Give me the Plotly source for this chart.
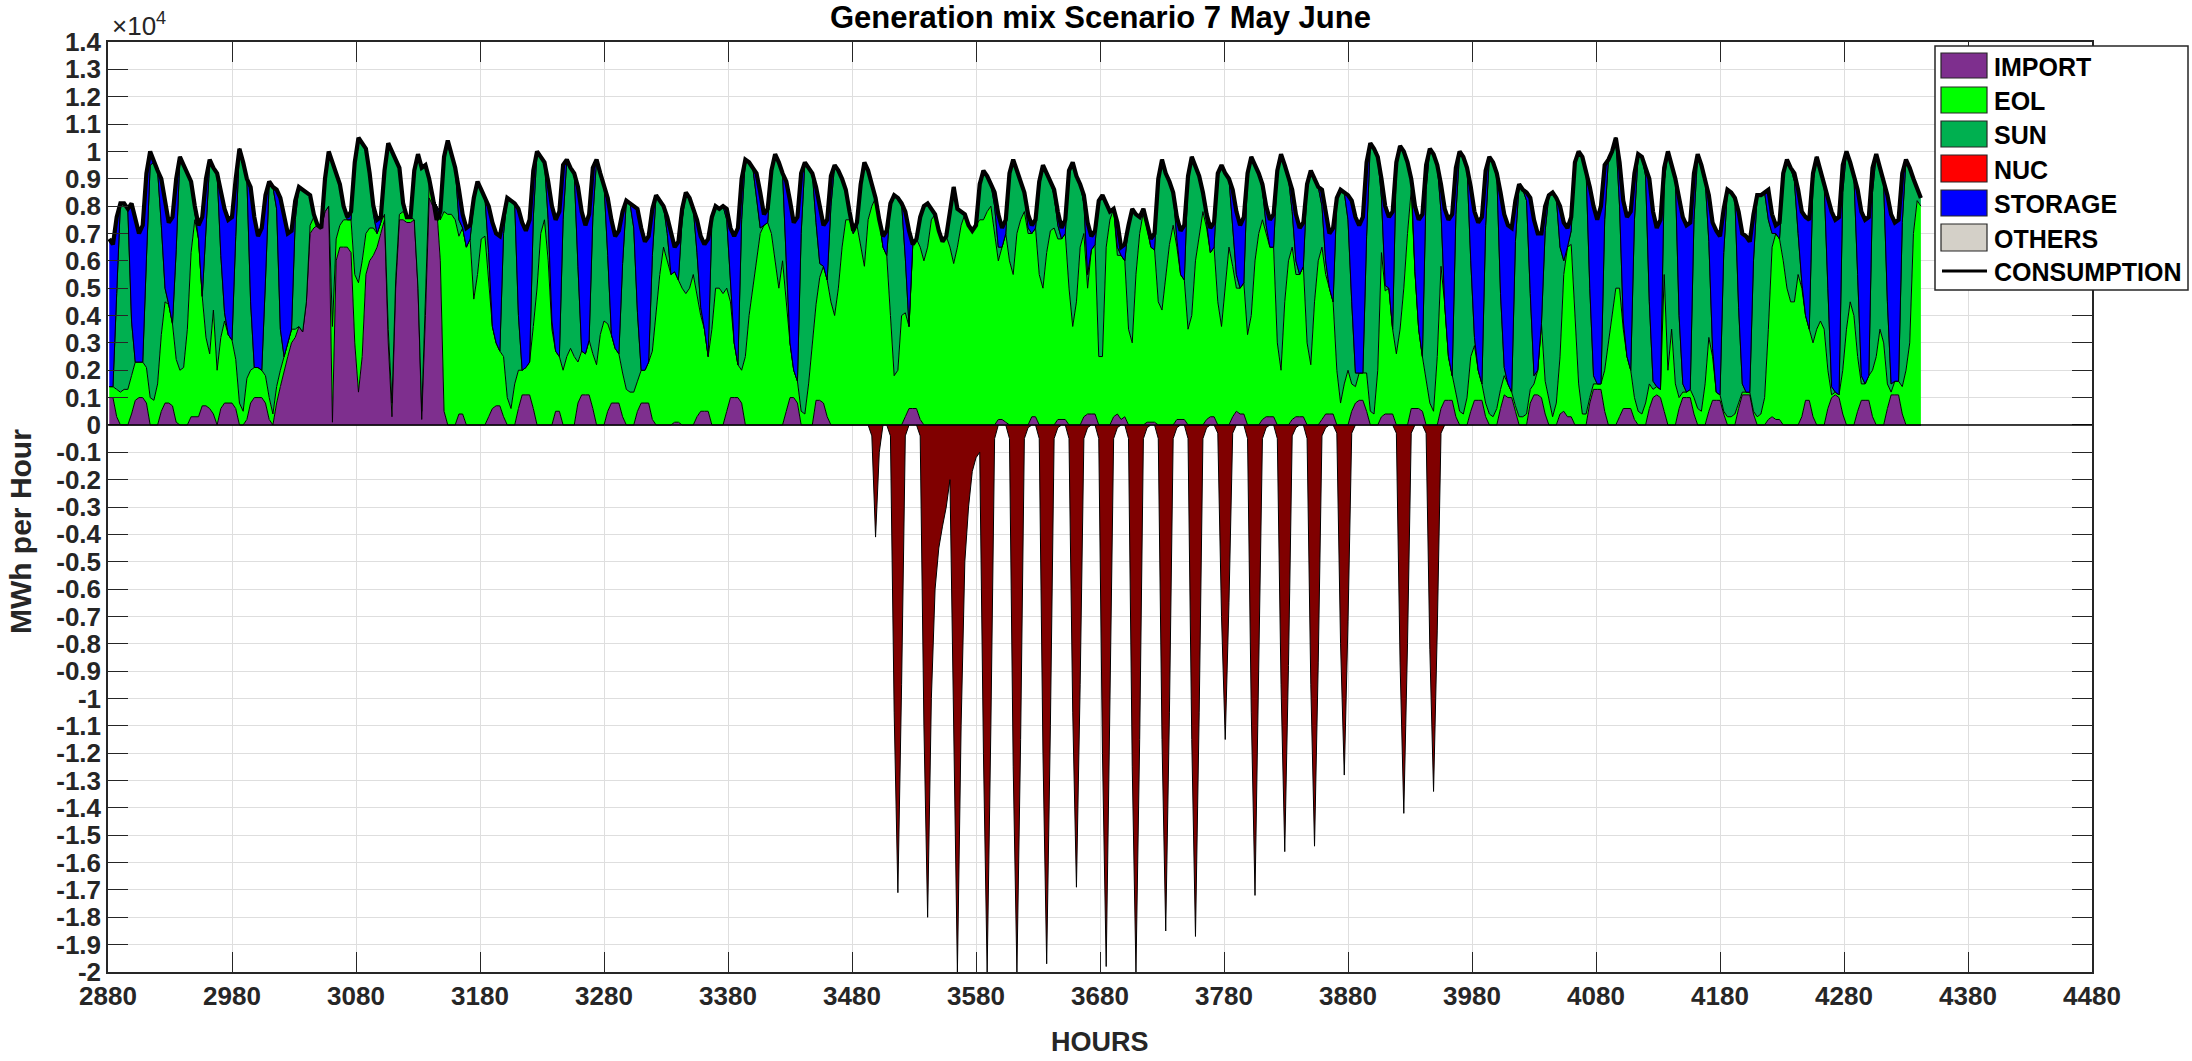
import plotly.graph_objects as go

# ---------------- DATA (values in thousands of MWh per hour) ----------------
START_HOUR = 2880
HOURS_OF_DAY = [1, 4, 7, 10, 13, 16, 19, 22]

CONSUMPTION_K = [
    [6.8, 6.6, 7.6, 8.1, 8.1, 7.9, 8.1, 7.5],
    [7.0, 7.3, 9.2, 10.0, 9.6, 9.3, 9.0, 8.2],
    [7.4, 7.6, 9.0, 9.8, 9.5, 9.2, 8.9, 8.0],
    [7.3, 7.6, 9.0, 9.7, 9.4, 9.2, 8.6, 7.9],
    [7.5, 7.6, 9.0, 10.1, 9.6, 9.0, 8.7, 7.6],
    [6.9, 7.2, 8.4, 8.9, 8.7, 8.6, 8.3, 7.6],
    [7.0, 7.1, 8.2, 8.7, 8.6, 8.5, 8.4, 7.7],
    [7.3, 7.2, 9.0, 10.0, 9.6, 9.3, 8.8, 8.0],
    [7.6, 7.8, 9.6, 10.5, 10.3, 10.1, 9.2, 8.0],
    [7.5, 7.6, 9.3, 10.3, 10.0, 9.7, 9.4, 8.1],
    [7.6, 7.6, 9.3, 9.9, 9.4, 9.5, 9.0, 8.3],
    [7.5, 7.8, 9.8, 10.4, 9.9, 9.4, 8.6, 7.7],
    [7.2, 7.3, 8.3, 8.9, 8.6, 8.3, 8.0, 7.4],
    [7.0, 6.9, 7.7, 8.3, 8.2, 8.1, 7.9, 7.4],
    [7.1, 7.5, 9.3, 10.0, 9.8, 9.6, 8.9, 8.0],
    [7.5, 7.8, 9.5, 9.7, 9.4, 9.2, 8.7, 7.8],
    [7.3, 7.7, 9.4, 9.7, 9.2, 8.8, 8.3, 7.5],
    [6.9, 7.1, 7.8, 8.2, 8.1, 8.0, 7.9, 7.2],
    [6.7, 6.9, 7.9, 8.4, 8.2, 8.0, 7.6, 7.0],
    [6.5, 6.7, 7.9, 8.5, 8.3, 7.9, 7.5, 6.9],
    [6.6, 6.8, 7.6, 8.0, 7.9, 8.0, 7.9, 7.2],
    [6.9, 7.2, 9.0, 9.7, 9.6, 9.4, 9.2, 8.5],
    [7.7, 7.9, 9.3, 9.9, 9.6, 9.2, 8.9, 8.2],
    [7.4, 7.6, 9.2, 9.6, 9.4, 9.2, 8.7, 7.9],
    [7.3, 7.5, 9.1, 9.5, 9.3, 9.0, 8.6, 7.8],
    [7.1, 7.4, 8.8, 9.6, 9.3, 8.8, 8.3, 7.5],
    [6.9, 7.1, 8.1, 8.4, 8.3, 8.1, 7.8, 7.1],
    [6.6, 6.8, 7.6, 8.0, 8.1, 7.9, 7.7, 7.1],
    [6.7, 6.9, 7.8, 8.7, 7.9, 7.8, 7.7, 7.3],
    [7.1, 7.3, 8.8, 9.3, 9.1, 8.8, 8.5, 7.7],
    [7.2, 7.5, 9.2, 9.7, 9.3, 8.9, 8.5, 7.7],
    [7.3, 7.5, 8.9, 9.5, 9.2, 8.9, 8.6, 7.8],
    [7.2, 7.5, 9.3, 9.6, 9.1, 8.8, 8.4, 7.4],
    [6.9, 7.1, 8.2, 8.4, 8.1, 7.8, 7.9, 7.4],
    [6.5, 6.6, 7.3, 7.9, 7.7, 7.6, 7.9, 7.4],
    [6.8, 7.0, 9.0, 9.7, 9.2, 8.9, 8.5, 7.6],
    [7.1, 7.3, 9.1, 9.8, 9.4, 9.1, 8.5, 7.7],
    [7.2, 7.4, 9.2, 9.5, 9.2, 9.0, 8.6, 7.8],
    [7.3, 7.6, 9.2, 9.8, 9.5, 9.2, 8.8, 8.0],
    [7.5, 7.7, 9.3, 9.9, 9.5, 9.0, 8.6, 7.7],
    [7.2, 7.4, 8.8, 9.3, 9.0, 8.7, 8.6, 7.7],
    [7.0, 7.2, 8.3, 8.6, 8.5, 8.4, 8.2, 7.6],
    [7.3, 7.6, 9.6, 10.3, 10.1, 9.8, 9.0, 8.0],
    [7.6, 7.8, 9.6, 10.2, 10.0, 9.6, 9.0, 8.0],
    [7.5, 7.7, 9.5, 10.1, 9.9, 9.5, 8.8, 7.9],
    [7.5, 7.7, 9.4, 10.0, 9.8, 9.4, 8.7, 7.8],
    [7.4, 7.6, 9.3, 9.8, 9.6, 9.2, 8.5, 7.7],
    [7.3, 7.2, 8.2, 8.8, 8.6, 8.5, 8.3, 7.5],
    [7.0, 7.0, 8.0, 8.4, 8.5, 8.3, 8.0, 7.4],
    [7.2, 7.6, 9.6, 10.0, 9.8, 9.3, 8.7, 8.0],
    [7.5, 8.0, 9.5, 9.7, 10.0, 10.5, 9.6, 8.2],
    [7.6, 7.8, 9.2, 9.9, 9.8, 9.4, 9.0, 7.8],
    [7.2, 7.5, 9.4, 10.0, 9.5, 9.0, 8.3, 7.6],
    [7.3, 7.4, 9.2, 9.9, 9.5, 9.0, 8.4, 7.4],
    [7.1, 6.9, 7.9, 8.6, 8.5, 8.3, 7.8, 7.0],
    [6.9, 6.7, 7.7, 8.4, 8.4, 8.5, 8.6, 7.7],
    [7.3, 7.4, 9.2, 9.7, 9.4, 9.2, 8.6, 7.8],
    [7.6, 7.5, 9.2, 9.8, 9.3, 8.8, 8.4, 7.8],
    [7.5, 7.6, 9.5, 10.0, 9.6, 9.1, 8.6, 7.8],
    [7.5, 7.6, 9.4, 9.9, 9.4, 8.8, 8.4, 7.7],
    [7.4, 7.5, 9.2, 9.7, 9.4, 9.0, 8.6, 8.3],
]

IMPORT_K = [
    [1.0, 1.0, 0.3, 0, 0, 0, 0.4, 0.9],
    [1.0, 1.0, 0.8, 0, 0, 0, 0.5, 0.8],
    [0.8, 0.7, 0.1, 0, 0, 0, 0.3, 0.3],
    [0.3, 0.7, 0.7, 0.6, 0.4, 0, 0.6, 0.8],
    [0.8, 0.8, 0.6, 0, 0, 0.2, 0.8, 1.0],
    [1.0, 1.0, 0.8, 0.2, 0, 0.8, 1.4, 2.0],
    [2.5, 3.0, 3.2, 3.6, 3.4, 4.5, 7.0, 7.2],
    [7.3, 7.2, 7.8, 8.0, 0.1, 6.0, 6.5, 6.5],
    [6.5, 6.3, 3.0, 1.2, 2.5, 5.5, 6.0, 6.2],
    [6.5, 7.0, 7.5, 3.0, 0.3, 5.0, 7.5, 7.5],
    [7.4, 7.4, 7.5, 5.0, 0.2, 4.0, 8.3, 8.0],
    [8.0, 6.0, 0.5, 0, 0, 0, 0.4, 0.4],
    [0, 0, 0, 0, 0, 0, 0.3, 0.6],
    [0.7, 0.7, 0.3, 0, 0, 0, 0.6, 1.1],
    [1.1, 1.1, 0.6, 0, 0, 0, 0, 0],
    [0.5, 0.5, 0, 0, 0, 0, 0.8, 1.1],
    [1.1, 1.1, 0.6, 0, 0, 0, 0.5, 0.8],
    [0.8, 0.8, 0.3, 0, 0, 0, 0.5, 0.8],
    [0.8, 0.8, 0.2, 0, 0, 0, 0, 0],
    [0.1, 0.1, 0, 0, 0, 0, 0.3, 0.5],
    [0.5, 0.5, 0, 0, 0, 0, 0.5, 1.0],
    [1.0, 1.0, 0.8, 0, 0, 0, 0, 0],
    [0, 0, 0, 0, 0, 0, 0.5, 1.0],
    [1.0, 0.8, 0, 0, 0, 0, 0.9, 0.9],
    [0.8, 0.3, 0, 0, 0, 0, 0, 0],
    [0, 0, 0, 0, 0, 0, 0, 0],
    [0, 0, 0, 0, 0, 0, 0.3, 0.6],
    [0.6, 0.6, 0.2, 0, 0, 0, 0, 0],
    [0, 0, 0, 0, 0, 0, 0, 0],
    [0, 0, 0, 0, 0, 0, 0, 0.2],
    [0.2, 0.1, 0, 0, 0, 0, 0, 0],
    [0.3, 0.3, 0, 0, 0, 0, 0, 0.2],
    [0.2, 0.2, 0, 0, 0, 0, 0.3, 0.4],
    [0.4, 0.4, 0, 0, 0, 0, 0.3, 0.4],
    [0.2, 0.3, 0, 0, 0, 0, 0, 0.1],
    [0.1, 0.1, 0, 0, 0, 0, 0, 0.2],
    [0.2, 0.2, 0, 0, 0, 0, 0, 0.2],
    [0.3, 0.3, 0, 0, 0, 0, 0.3, 0.5],
    [0.4, 0.4, 0, 0, 0, 0, 0.2, 0.3],
    [0.3, 0.3, 0, 0, 0, 0, 0.2, 0.3],
    [0.3, 0.3, 0, 0, 0, 0, 0.2, 0.4],
    [0.4, 0.4, 0, 0, 0, 0, 0.5, 0.8],
    [0.9, 0.9, 0.5, 0, 0, 0, 0.3, 0.4],
    [0.4, 0.4, 0, 0, 0, 0, 0.6, 0.6],
    [0.6, 0.5, 0, 0, 0, 0, 0.6, 0.9],
    [0.9, 0.9, 0.3, 0, 0, 0, 0.5, 0.9],
    [0.9, 0.9, 0.3, 0, 0, 0, 0.6, 1.1],
    [1.0, 1.0, 0.5, 0, 0, 0, 0.8, 1.1],
    [1.1, 1.0, 0.4, 0, 0, 0, 0.4, 0.5],
    [0.3, 0.3, 0, 0, 0, 0, 0.8, 1.3],
    [1.3, 1.3, 0.5, 0, 0, 0, 0.3, 0.6],
    [0.6, 0.6, 0.2, 0, 0, 0, 0.6, 1.0],
    [1.1, 1.0, 0.5, 0, 0, 0, 0.6, 1.0],
    [1.0, 1.0, 0.4, 0, 0, 0, 0.5, 0.9],
    [0.9, 0.9, 0.4, 0, 0, 0, 0.6, 1.1],
    [1.1, 1.1, 0.4, 0, 0, 0, 0.2, 0.3],
    [0.2, 0.2, 0, 0, 0, 0, 0, 0.3],
    [0.9, 0.9, 0.3, 0, 0, 0, 0.6, 1.0],
    [1.1, 1.0, 0.4, 0, 0, 0, 0.5, 0.9],
    [0.9, 0.9, 0.3, 0, 0, 0, 0.6, 1.1],
    [1.1, 1.1, 0.4, 0, 0, 0, 0, 0],
]

EOL_K = [
    [0.4, 0.4, 1.0, 1.2, 1.3, 1.3, 1.4, 1.4],
    [1.3, 1.3, 1.3, 1.0, 0.9, 1.5, 2.8, 3.7],
    [3.6, 3.0, 2.3, 2.0, 2.1, 3.5, 6.0, 7.2],
    [6.5, 4.0, 2.5, 2.0, 3.8, 2.0, 2.6, 3.0],
    [2.5, 2.3, 1.8, 0.8, 0.5, 1.5, 1.2, 1.1],
    [1.1, 1.0, 1.0, 0.8, 0.4, 0.6, 0.6, 0.5],
    [0.5, 0.5, 0.3, 0, 0, 0, 0.3, 0.4],
    [0, 0, 0, 0, 3.5, 0.8, 0.8, 1.0],
    [1.0, 1.2, 2.5, 4.0, 3.5, 1.5, 1.2, 1.0],
    [0.5, 0.4, 0.2, 0.5, 0.5, 0.3, 0.2, 0.3],
    [0.2, 0.2, 0, 0, 0.3, 0.5, 0.5, 0.3],
    [0, 1.5, 7.3, 7.7, 7.7, 7.5, 6.5, 6.8],
    [6.5, 6.8, 4.6, 5.5, 6.8, 6.9, 5.0, 3.0],
    [2.3, 2.0, 2.2, 1.0, 0.6, 1.5, 1.4, 0.9],
    [1.0, 1.2, 3.0, 5.0, 7.0, 7.5, 6.0, 3.5],
    [2.2, 2.0, 2.0, 2.5, 2.8, 2.5, 1.5, 1.6],
    [1.5, 2.0, 2.0, 2.2, 3.3, 3.8, 3.2, 2.5],
    [2.0, 1.8, 1.6, 1.3, 1.2, 1.2, 1.1, 1.2],
    [1.2, 1.5, 2.5, 4.0, 5.5, 6.5, 6.0, 5.5],
    [5.5, 5.2, 5.0, 4.8, 5.0, 5.5, 4.5, 3.5],
    [3.0, 2.0, 3.5, 5.0, 5.0, 4.8, 4.5, 3.5],
    [2.0, 1.2, 1.2, 2.5, 4.0, 5.0, 6.0, 7.0],
    [7.3, 7.4, 7.0, 6.0, 5.0, 6.0, 4.0, 2.0],
    [1.0, 0.8, 0.5, 0.4, 1.5, 3.0, 3.5, 4.5],
    [5.0, 5.0, 4.5, 4.0, 5.0, 6.5, 7.5, 7.5],
    [7.0, 7.3, 6.5, 5.8, 7.5, 8.0, 8.3, 7.5],
    [6.5, 6.2, 4.0, 1.8, 2.0, 4.0, 3.8, 3.0],
    [6.0, 6.2, 6.3, 6.0, 6.5, 7.5, 7.7, 7.1],
    [6.7, 6.9, 6.5, 5.9, 6.5, 7.3, 7.7, 7.3],
    [7.1, 7.3, 7.5, 7.5, 7.8, 8.0, 7.0, 5.8],
    [6.3, 6.9, 6.0, 5.5, 7.0, 7.5, 7.8, 7.0],
    [6.7, 6.9, 5.5, 5.0, 6.3, 7.1, 7.2, 6.6],
    [6.6, 6.8, 5.0, 3.6, 4.5, 6.5, 6.7, 4.6],
    [6.0, 6.2, 2.5, 2.5, 6.5, 7.5, 7.6, 5.8],
    [6.0, 5.7, 3.5, 3.0, 5.5, 7.0, 7.8, 7.1],
    [6.4, 6.3, 4.5, 4.2, 5.5, 6.6, 7.3, 6.3],
    [5.3, 5.1, 3.5, 4.0, 6.0, 7.0, 7.8, 7.0],
    [6.0, 6.2, 4.5, 3.6, 5.0, 6.5, 5.5, 4.5],
    [4.6, 4.8, 3.3, 4.0, 6.0, 7.0, 7.3, 6.7],
    [6.2, 6.2, 3.0, 2.0, 4.5, 6.0, 6.3, 5.2],
    [5.2, 5.5, 3.0, 2.2, 4.5, 6.0, 6.3, 5.1],
    [4.6, 4.1, 2.0, 0.8, 1.5, 2.0, 1.0, 0.6],
    [1.0, 1.0, 1.4, 0.5, 0.4, 2.0, 6.0, 4.5],
    [4.6, 3.1, 2.6, 3.5, 5.0, 7.0, 8.0, 5.0],
    [2.9, 2.0, 1.6, 0.8, 0.5, 2.5, 5.2, 3.5],
    [1.6, 0.9, 0.9, 0.5, 0.4, 1.0, 2.0, 2.0],
    [1.1, 0.6, 0.5, 0.4, 0.3, 0.6, 0.7, 0.7],
    [0.5, 0.2, 0.2, 0.3, 0.3, 0.4, 0.5, 0.4],
    [0.9, 2.7, 1.2, 1.0, 0.3, 0.8, 2.1, 5.0],
    [6.2, 6.3, 4.0, 1.5, 0.4, 0.4, 0.2, 0.2],
    [0.2, 0.2, 1.5, 3.0, 4.0, 5.0, 4.7, 2.9],
    [1.9, 1.4, 0.8, 0.5, 0.4, 0.8, 0.9, 0.3],
    [0.3, 0.3, 5.0, 2.0, 3.5, 1.5, 0.4, 0.2],
    [0.2, 0.3, 0.6, 0.6, 0.5, 1.5, 2.7, 1.6],
    [0.3, 0.2, 0.1, 0.3, 0.3, 0.4, 0.2, 0.1],
    [0.1, 0.1, 0.1, 0.3, 0.4, 1.0, 3.3, 6.2],
    [6.8, 6.6, 6.0, 5.0, 4.5, 4.5, 5.5, 4.7],
    [3.1, 2.6, 2.7, 3.5, 3.8, 3.5, 1.4, 0.1],
    [0.1, 0.1, 1.6, 3.5, 4.5, 4.0, 2.0, 0.6],
    [0.6, 0.9, 1.7, 2.5, 3.5, 3.0, 0.9, 0.1],
    [0.5, 0.5, 1.0, 2.0, 3.0, 7.0, 8.2, 8.0],
]

SUN_K = [
    [0, 0, 3.5, 6.9, 6.8, 6.6, 2.0, 0],
    [0, 0, 4.0, 8.5, 8.7, 7.8, 4.0, 0.5],
    [0, 0, 4.0, 7.8, 7.4, 5.7, 2.6, 0.3],
    [0, 0, 4.0, 7.0, 5.2, 7.2, 3.0, 0.3],
    [0, 0, 4.5, 9.3, 9.1, 7.3, 2.5, 0],
    [0, 0, 3.5, 7.9, 8.3, 6.5, 1.5, 0],
    [0, 0, 4.0, 5.1, 5.2, 4.0, 1.1, 0],
    [0, 0, 1.2, 2.0, 6.0, 2.5, 1.5, 0.5],
    [0, 0, 4.0, 5.3, 4.3, 3.1, 2.0, 0.5],
    [0, 0, 1.6, 6.8, 9.2, 4.4, 1.7, 0.3],
    [0, 0, 1.8, 4.9, 8.9, 5.0, 0.2, 0],
    [0, 0, 2.0, 2.7, 2.2, 1.9, 0.6, 0],
    [0, 0, 3.5, 3.4, 1.8, 1.4, 1.0, 0],
    [0, 0, 4.5, 7.3, 7.6, 6.6, 2.0, 0],
    [0, 0, 4.0, 5.0, 2.8, 2.1, 1.5, 0.3],
    [0, 0, 5.5, 7.2, 6.6, 6.7, 3.5, 0],
    [0, 0, 5.0, 7.5, 5.9, 5.0, 2.5, 0],
    [0, 0, 4.0, 6.9, 6.9, 6.0, 2.5, 0],
    [0, 0, 3.5, 4.4, 2.7, 1.5, 1.0, 0],
    [0, 0, 2.5, 3.7, 3.3, 2.4, 1.5, 0.3],
    [0, 0, 4.0, 3.0, 2.9, 3.2, 2.5, 0.5],
    [0, 0, 5.5, 7.2, 5.6, 4.4, 2.2, 0.2],
    [0, 0, 2.3, 3.9, 4.6, 3.2, 1.5, 0],
    [0, 0, 6.5, 9.2, 7.9, 6.2, 3.0, 0.5],
    [0, 0, 3.5, 5.5, 4.3, 2.5, 1.1, 0.2],
    [0, 0, 2.3, 3.8, 1.8, 0.8, 0, 0],
    [0, 0, 4.1, 6.6, 6.3, 4.1, 2.0, 0],
    [0, 0, 1.1, 2.0, 1.6, 0.4, 0, 0],
    [0, 0, 1.3, 2.8, 1.4, 0.5, 0, 0],
    [0, 0, 1.3, 1.8, 1.3, 0.8, 1.0, 0.5],
    [0, 0, 3.2, 4.2, 2.3, 1.4, 0.7, 0.2],
    [0, 0, 3.4, 4.5, 2.9, 1.8, 1.2, 0.5],
    [0, 0, 4.3, 6.0, 4.6, 2.3, 1.1, 0.5],
    [0, 0, 5.7, 5.9, 1.6, 0.3, 0, 0.3],
    [0, 0, 3.8, 4.9, 2.2, 0.6, 0.1, 0.1],
    [0, 0, 4.5, 5.5, 3.7, 2.3, 1.2, 0.3],
    [0, 0, 5.6, 5.8, 3.4, 2.1, 0.7, 0.3],
    [0, 0, 4.7, 5.9, 4.2, 2.5, 1.5, 0.5],
    [0, 0, 5.9, 5.8, 3.5, 2.2, 1.1, 0.3],
    [0, 0, 6.3, 7.9, 5.0, 3.0, 1.3, 0.5],
    [0, 0, 5.8, 7.1, 4.5, 2.7, 1.5, 0.5],
    [0, 0, 6.3, 7.8, 7.0, 5.5, 3.0, 0.5],
    [0, 0, 5.0, 9.8, 9.7, 7.8, 2.0, 0.2],
    [0, 0, 7.0, 6.7, 5.0, 2.6, 0.4, 0],
    [0, 0, 7.0, 9.3, 9.4, 7.0, 2.0, 0],
    [0, 0, 6.5, 9.5, 9.4, 8.4, 3.5, 0.3],
    [0, 0, 6.5, 9.4, 9.3, 8.6, 3.5, 0.3],
    [0, 0, 6.0, 8.5, 8.3, 7.8, 3.5, 0.3],
    [0, 0, 5.5, 7.4, 8.2, 7.5, 4.0, 0.5],
    [0, 0.5, 5.6, 8.5, 9.4, 8.9, 4.0, 0.3],
    [0, 0, 5.5, 6.7, 6.0, 5.5, 3.0, 0.3],
    [0, 0, 6.5, 9.4, 9.4, 8.3, 3.0, 0.3],
    [0, 0, 3.4, 8.0, 6.0, 7.5, 3.0, 0.3],
    [0, 0, 6.5, 9.3, 9.0, 7.5, 3.5, 0.3],
    [0, 0, 5.8, 8.3, 8.2, 7.9, 3.5, 0.3],
    [0, 0, 5.5, 8.1, 8.0, 7.5, 4.0, 0.5],
    [0, 0, 3.0, 4.7, 4.9, 4.4, 1.5, 0.2],
    [0, 0, 5.9, 6.3, 5.5, 5.3, 3.0, 0.3],
    [0, 0, 6.5, 6.5, 5.1, 5.1, 3.0, 0.3],
    [0, 0, 6.5, 7.4, 5.9, 5.8, 3.0, 0.3],
    [0, 0, 6.0, 7.7, 6.4, 2.0, 0.4, 0.3],
]

# Exported surplus (negative), only for the days listed
EXPORT_DAYS = [25, 26, 27, 28, 29, 30, 31, 32, 33, 34, 35, 36, 37, 38, 39, 40, 41, 43, 44]
EXPORT_K = [
    [0, 0, 0, 0, 0, -0.4, -4.1, -1.0],
    [0, 0, -0.4, -10.5, -17.1, -9.5, -0.4, 0],
    [0, 0, -0.4, -11.0, -18.0, -10.0, -6.0, -4.5],
    [-3.7, -3.0, -2.0, -12.0, -20.0, -11.0, -5.0, -3.0],
    [-1.7, -1.2, -1.0, -12.0, -20.0, -11.0, -0.5, 0],
    [0, 0, -0.5, -12.5, -20.0, -11.5, -0.5, -0.1],
    [0, 0, -0.5, -12.0, -19.7, -11.0, -0.5, -0.1],
    [0, 0, -0.5, -10.5, -16.9, -9.5, -0.5, -0.1],
    [0, 0, -0.5, -12.0, -19.8, -11.0, -0.5, -0.1],
    [0, 0, -0.5, -12.5, -20.0, -11.5, -0.5, -0.1],
    [0, 0, -0.5, -11.5, -18.5, -10.5, -0.5, -0.1],
    [0, 0, -0.5, -11.5, -18.7, -10.5, -0.5, -0.1],
    [0, 0, -0.3, -7.0, -11.5, -6.5, -0.3, 0],
    [0, 0, -0.5, -10.5, -17.2, -9.5, -0.5, -0.1],
    [0, 0, -0.5, -9.5, -15.6, -8.8, -0.4, -0.1],
    [0, 0, -0.5, -9.5, -15.4, -8.7, -0.4, -0.1],
    [0, 0, -0.3, -8.0, -12.8, -7.2, -0.3, 0],
    [0, 0, -0.3, -8.7, -14.2, -8.0, -0.3, 0],
    [0, 0, -0.3, -8.2, -13.4, -7.5, -0.3, 0],
]

X_TICKS = [2880, 2980, 3080, 3180, 3280, 3380, 3480, 3580, 3680, 3780,
           3880, 3980, 4080, 4180, 4280, 4380, 4480]
Y_TICKS_K = [14, 13, 12, 11, 10, 9, 8, 7, 6, 5, 4, 3, 2, 1, 0, -1, -2, -3, -4, -5, -6,
             -7, -8, -9, -10, -11, -12, -13, -14, -15, -16, -17, -18, -19, -20]
Y_TICK_LABELS = ["1.4", "1.3", "1.2", "1.1", "1", "0.9", "0.8", "0.7", "0.6", "0.5",
                 "0.4", "0.3", "0.2", "0.1", "0", "-0.1", "-0.2", "-0.3", "-0.4", "-0.5",
                 "-0.6", "-0.7", "-0.8", "-0.9", "-1", "-1.1", "-1.2", "-1.3", "-1.4",
                 "-1.5", "-1.6", "-1.7", "-1.8", "-1.9", "-2"]

SERIES_NAMES = ["IMPORT", "EOL", "SUN", "NUC", "STORAGE", "OTHERS", "CONSUMPTION"]

# ---------------- derived series ----------------
n_days = len(CONSUMPTION_K)
hours = [START_HOUR + 24 * d + h for d in range(n_days) for h in HOURS_OF_DAY]
flat = lambda rows: [v for row in rows for v in row]
cons = flat(CONSUMPTION_K)
imp = flat(IMPORT_K)
eol_raw = flat(EOL_K)
sun_raw = flat(SUN_K)
exp_rows = {d: row for d, row in zip(EXPORT_DAYS, EXPORT_K)}
export = flat([exp_rows.get(d, [0] * len(HOURS_OF_DAY)) for d in range(n_days)])

eol, sun, nuc, storage, others = [], [], [], [], []
for c, i, e, s in zip(cons, imp, eol_raw, sun_raw):
    e2 = max(0.0, min(e, c - i))
    s2 = max(0.0, min(s, c - i - e2))
    eol.append(e2)
    sun.append(s2)
    nuc.append(0.0)
    storage.append(max(0.0, c - i - e2 - s2))
    others.append(0.0)

layers = [imp, eol, sun, nuc, storage, others]
colors = ["#7E2F8E", "#00FF00", "#00B050", "#FF0000", "#0000FF", "#D4D0C8"]

fig = go.Figure()

# export (negative area)
fig.add_trace(go.Scatter(x=hours, y=export, mode="lines", fill="tozeroy",
                         fillcolor="#800000", line=dict(color="black", width=1),
                         showlegend=False, name="EXPORT"))

cum = [0.0] * len(hours)
for k, (vals, col) in enumerate(zip(layers, colors)):
    cum = [a + b for a, b in zip(cum, vals)]
    fig.add_trace(go.Scatter(x=hours, y=cum, mode="lines",
                             fill="tozeroy" if k == 0 else "tonexty",
                             fillcolor=col, line=dict(color="black", width=1),
                             showlegend=False, name=SERIES_NAMES[k]))

fig.add_trace(go.Scatter(x=hours, y=cons, mode="lines",
                         line=dict(color="black", width=4.2),
                         showlegend=False, name="CONSUMPTION"))

# ---------------- layout ----------------
W, H = 2192, 1061
L, R, T, B = 108, 2092, 42, 972
FONT = "Liberation Sans, Arial, Helvetica, sans-serif"
AX = "#262626"


def px(xp):
    return (xp - L) / (R - L)


def py(yp):
    return (B - yp) / (B - T)


axis_common = dict(ticks="inside", ticklen=20, tickwidth=1.2, tickcolor=AX,
                   mirror="allticks", showline=True, linecolor=AX, linewidth=1.5,
                   showgrid=True, gridcolor="#DEDEDE", gridwidth=1, zeroline=False,
                   tickfont=dict(family=FONT, size=26, color=AX, weight="bold"))

fig.update_layout(
    width=W, height=H,
    margin=dict(l=L, r=W - R, t=T, b=H - B, pad=0),
    paper_bgcolor="white", plot_bgcolor="white",
    xaxis=dict(range=[2880, 4480], tickvals=X_TICKS,
               ticktext=[str(v) for v in X_TICKS], **axis_common),
    yaxis=dict(range=[-20, 14], tickvals=Y_TICKS_K, ticktext=Y_TICK_LABELS,
               **axis_common),
    showlegend=False,
)

shapes = [
    dict(type="line", xref="x", yref="y", x0=2880, x1=4480, y0=0, y1=0,
         line=dict(color="black", width=1.5), layer="above"),
    dict(type="rect", xref="paper", yref="paper", x0=px(1935), x1=px(2188),
         y0=py(290), y1=py(46), fillcolor="white", line=dict(color=AX, width=1.5),
         layer="above"),
]
annotations = [
    dict(text="<b>Generation mix Scenario 7 May June</b>", xref="paper", yref="paper",
         x=0.5, y=py(17), xanchor="center", yanchor="middle", showarrow=False,
         font=dict(family=FONT, size=31, color="black")),
    dict(text="<b>HOURS</b>", xref="paper", yref="paper", x=0.5, y=py(1042),
         xanchor="center", yanchor="middle", showarrow=False,
         font=dict(family=FONT, size=27, color=AX)),
    dict(text="<b>MWh per Hour</b>", xref="paper", yref="paper", x=px(20), y=0.473,
         xanchor="center", yanchor="middle", textangle=-90, showarrow=False,
         font=dict(family=FONT, size=30, color=AX)),
    dict(text="\u00d710<sup>4</sup>", xref="paper", yref="paper", x=px(110), y=py(24),
         xanchor="left", yanchor="middle", showarrow=False,
         font=dict(family=FONT, size=26, color=AX)),
]

swatch_rows = [(53, 78), (87, 113), (121, 147), (155, 182), (190, 216), (224, 251)]
for (top, bot), col, name in zip(swatch_rows, colors, SERIES_NAMES[:6]):
    shapes.append(dict(type="rect", xref="paper", yref="paper", x0=px(1941), x1=px(1987),
                       y0=py(bot), y1=py(top), fillcolor=col,
                       line=dict(color=AX, width=1.2), layer="above"))
    annotations.append(dict(text="<b>%s</b>" % name, xref="paper", yref="paper",
                            x=px(1992), y=py((top + bot) / 2 + 1), xanchor="left",
                            yanchor="middle", showarrow=False,
                            font=dict(family=FONT, size=25, color="black")))
shapes.append(dict(type="line", xref="paper", yref="paper", x0=px(1942), x1=px(1987),
                   y0=py(271), y1=py(271), line=dict(color="black", width=3),
                   layer="above"))
annotations.append(dict(text="<b>CONSUMPTION</b>", xref="paper", yref="paper",
                        x=px(1992), y=py(272), xanchor="left", yanchor="middle",
                        showarrow=False, font=dict(family=FONT, size=25, color="black")))

fig.update_layout(shapes=shapes, annotations=annotations)
fig.write_html("out.html")
